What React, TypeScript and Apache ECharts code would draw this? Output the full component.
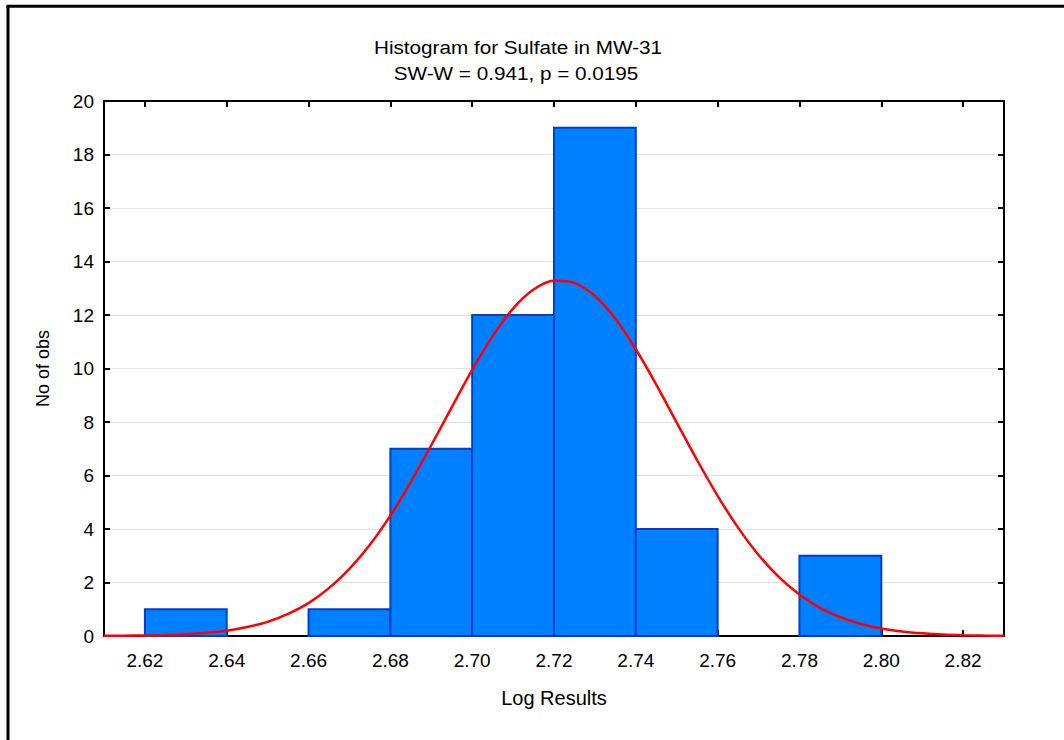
import React, { useEffect, useRef } from "react";
import * as echarts from "echarts";

// Histogram bins (lower edge, upper edge) and counts
const binStarts = [2.62, 2.64, 2.66, 2.68, 2.70, 2.72, 2.74, 2.76, 2.78];
const binEnds = [2.64, 2.66, 2.68, 2.70, 2.72, 2.74, 2.76, 2.78, 2.80];
const counts = [1, 0, 1, 7, 12, 19, 4, 0, 3];

// Fitted normal curve
const curveX = [
  2.610, 2.615, 2.620, 2.625, 2.630, 2.635, 2.640, 2.645, 2.650, 2.655,
  2.660, 2.665, 2.670, 2.675, 2.680, 2.685, 2.690, 2.695, 2.700, 2.705,
  2.710, 2.715, 2.720, 2.725, 2.730, 2.735, 2.740, 2.745, 2.750, 2.755,
  2.760, 2.765, 2.770, 2.775, 2.780, 2.785, 2.790, 2.795, 2.800, 2.805,
  2.810, 2.815, 2.820, 2.825, 2.830,
];
const curveY = [
  0.005, 0.011, 0.02, 0.038, 0.069, 0.12, 0.2, 0.34, 0.53, 0.83,
  1.23, 1.79, 2.51, 3.41, 4.5, 5.76, 7.13, 8.55, 9.95, 11.21,
  12.24, 12.95, 13.28, 13.2, 12.71, 11.86, 10.72, 9.4, 7.98, 6.57,
  5.24, 4.05, 3.03, 2.2, 1.55, 1.05, 0.7, 0.45, 0.28, 0.17,
  0.1, 0.055, 0.03, 0.016, 0.008,
];

const xTicks = [2.62, 2.64, 2.66, 2.68, 2.70, 2.72, 2.74, 2.76, 2.78, 2.80, 2.82];

const titleText = "Histogram for Sulfate in MW-31";
const subtitleText = "SW-W = 0.941, p = 0.0195";
const xName = "Log Results";
const yName = "No of obs";

const FONT = "'Liberation Sans', Arial, sans-serif";

export default function App() {
  const ref = useRef<HTMLDivElement>(null);

  useEffect(() => {
    if (!ref.current) return;
    const chart = echarts.init(ref.current, undefined, { renderer: "svg" });

    const histData = binStarts.map((s, i) => [s, binEnds[i], counts[i]]);
    const lineData = curveX.map((x, i) => [x, curveY[i]]);

    const xBase = {
      type: "value" as const,
      min: 2.61,
      max: 2.83,
      splitLine: { show: false },
      axisLine: { show: true, onZero: false, lineStyle: { color: "#000", width: 2 } },
      axisTick: {
        show: true,
        inside: true,
        length: 6,
        customValues: xTicks,
        lineStyle: { color: "#000", width: 2 },
      },
    };

    const yBase = {
      type: "value" as const,
      min: 0,
      max: 20,
      interval: 2,
      axisLine: { show: true, onZero: false, lineStyle: { color: "#000", width: 2 } },
      axisTick: { show: true, inside: true, length: 6, lineStyle: { color: "#000", width: 2 } },
    };

    chart.setOption({
      animation: false,
      backgroundColor: "#fff",
      textStyle: { fontFamily: FONT },
      grid: { left: 104, top: 101, right: 60, bottom: 104, containLabel: false },
      graphic: [
        { type: "line", shape: { x1: 8, y1: 6, x2: 8, y2: 760 }, style: { stroke: "#000", lineWidth: 3 } },
        { type: "line", shape: { x1: 6.5, y1: 6.3, x2: 1080, y2: 6.3 }, style: { stroke: "#000", lineWidth: 3 } },
        {
          type: "text",
          x: 518,
          y: 48,
          scaleX: 1.15,
          style: { text: titleText, font: `18px ${FONT}`, fill: "#000", align: "center", verticalAlign: "middle" },
        },
        {
          type: "text",
          x: 516,
          y: 74,
          scaleX: 1.15,
          style: { text: subtitleText, font: `18px ${FONT}`, fill: "#000", align: "center", verticalAlign: "middle" },
        },
      ],
      xAxis: [
        {
          ...xBase,
          position: "bottom",
          name: xName,
          nameLocation: "middle",
          nameGap: 52,
          nameTextStyle: { color: "#000", fontSize: 20, fontFamily: FONT },
          axisLabel: {
            show: true,
            margin: 15,
            color: "#000",
            fontSize: 19,
            fontFamily: FONT,
            customValues: xTicks,
            formatter: (v: number) => v.toFixed(2),
          },
        },
        {
          ...xBase,
          position: "top",
          axisLabel: { show: false },
        },
      ],
      yAxis: [
        {
          ...yBase,
          position: "left",
          name: yName,
          nameLocation: "middle",
          nameGap: 52,
          nameRotate: 90,
          nameTextStyle: { color: "#000", fontSize: 18, fontFamily: FONT },
          axisLabel: { show: true, margin: 10, color: "#000", fontSize: 19, fontFamily: FONT },
          splitLine: { show: true, lineStyle: { color: "#e2e2e2", width: 1 } },
        },
        {
          ...yBase,
          position: "right",
          axisLabel: { show: false },
          splitLine: { show: false },
        },
      ],
      series: [
        {
          type: "custom",
          xAxisIndex: 0,
          yAxisIndex: 0,
          data: histData,
          encode: { x: [0, 1], y: 2 },
          renderItem: (params: any, api: any) => {
            const v = api.value(2);
            if (!v) return null;
            const p0 = api.coord([api.value(0), v]);
            const p1 = api.coord([api.value(1), 0]);
            return {
              type: "rect",
              shape: { x: p0[0], y: p0[1], width: p1[0] - p0[0], height: p1[1] - p0[1] },
              style: { fill: "#0080ff", stroke: "#0040c8", lineWidth: 2 },
            };
          },
          z: 2,
        },
        {
          type: "line",
          xAxisIndex: 0,
          yAxisIndex: 0,
          data: lineData,
          smooth: 0.3,
          showSymbol: false,
          symbol: "none",
          lineStyle: { color: "#ff0000", width: 2.5 },
          z: 3,
        },
      ],
    });

    return () => chart.dispose();
  }, []);

  return (
    <div
      ref={ref}
      style={{ position: "fixed", left: 0, top: 0, width: 1064, height: 740, background: "#fff" }}
    />
  );
}
